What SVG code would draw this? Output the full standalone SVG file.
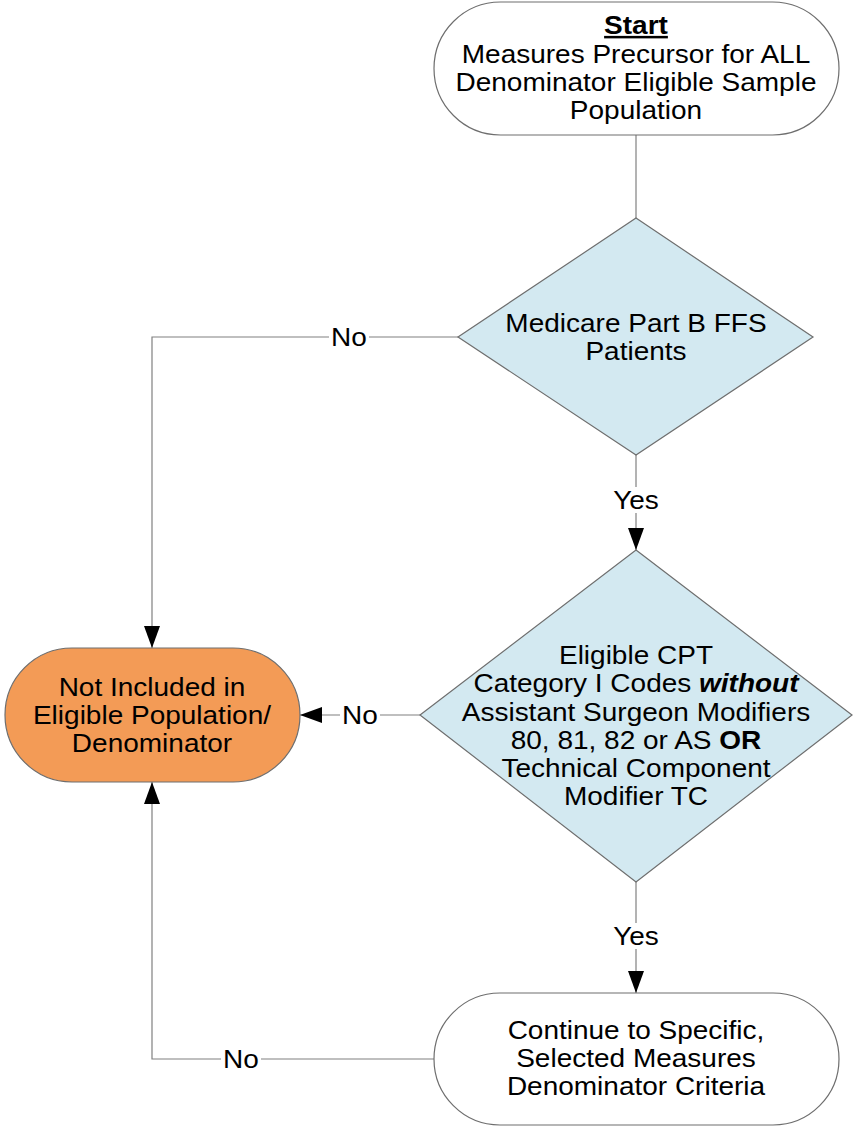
<svg xmlns="http://www.w3.org/2000/svg" width="854" height="1128" viewBox="0 0 854 1128">
<style>
text{font-family:"Liberation Sans",Arial,sans-serif;font-size:25px;fill:#000;text-anchor:middle}
.term{fill:#fff;stroke:#6e6e6e;stroke-width:1.2}
.dec{fill:#d3e9f1;stroke:#6e6e6e;stroke-width:1.2}
.orange{fill:#f39b56;stroke:#6e6e6e;stroke-width:1.2}
.conn{fill:none;stroke:#808080;stroke-width:1.2}
.lbl{fill:#fff}
</style>
<defs>
<marker id="arr" markerWidth="22" markerHeight="16" refX="22" refY="8" orient="auto" markerUnits="userSpaceOnUse" viewBox="0 0 22 16">
<path d="M0,0 L22,8 L0,16 z" fill="#000"/>
</marker>
</defs>
<g id="connectors">
<path class="conn" d="M636,135 L636,218"/>
<path class="conn" d="M458,337 L152,337 L152,648" marker-end="url(#arr)"/>
<path class="conn" d="M636,455 L636,550" marker-end="url(#arr)"/>
<path class="conn" d="M420,715 L300,715" marker-end="url(#arr)"/>
<path class="conn" d="M636,882 L636,993" marker-end="url(#arr)"/>
<path class="conn" d="M434,1059 L152,1059 L152,782" marker-end="url(#arr)"/>
<rect class="lbl" x="329" y="324" width="40" height="26"/>
<text x="349" y="346" transform="translate(349 0) scale(1.12 1) translate(-349 0)">No</text>
<rect class="lbl" x="609" y="487" width="54" height="26"/>
<text x="636" y="509" transform="translate(636 0) scale(1.12 1) translate(-636 0)">Yes</text>
<rect class="lbl" x="340" y="702" width="40" height="26"/>
<text x="360" y="724" transform="translate(360 0) scale(1.12 1) translate(-360 0)">No</text>
<rect class="lbl" x="609" y="923" width="54" height="26"/>
<text x="636" y="945" transform="translate(636 0) scale(1.12 1) translate(-636 0)">Yes</text>
<rect class="lbl" x="221" y="1046" width="40" height="26"/>
<text x="241" y="1068" transform="translate(241 0) scale(1.12 1) translate(-241 0)">No</text>
</g>
<g id="start">
<rect class="term" x="434" y="2" width="405" height="133" rx="66.5" ry="66.5"/>
<g transform="translate(636 0) scale(1.12 1) translate(-636 0)">
<text x="636" y="34" font-weight="bold" text-decoration="underline">Start</text>
<text x="636" y="63">Measures Precursor for ALL</text>
<text x="636" y="91">Denominator Eligible Sample</text>
<text x="636" y="119">Population</text>
</g>
</g>
<g id="medicare">
<polygon class="dec" points="636,218 813,337 636,455 458,337"/>
<g transform="translate(636 0) scale(1.12 1) translate(-636 0)">
<text x="636" y="332">Medicare Part B FFS</text>
<text x="636" y="360">Patients</text>
</g>
</g>
<g id="cpt">
<polygon class="dec" points="636,550 852,715 636,882 420,715"/>
<g transform="translate(636 0) scale(1.12 1) translate(-636 0)">
<text x="636" y="664">Eligible CPT</text>
<text x="636" y="692">Category I Codes <tspan font-weight="bold" font-style="italic">without</tspan></text>
<text x="636" y="721">Assistant Surgeon Modifiers</text>
<text x="636" y="749">80, 81, 82 or AS <tspan font-weight="bold">OR</tspan></text>
<text x="636" y="777">Technical Component</text>
<text x="636" y="805">Modifier TC</text>
</g>
</g>
<g id="notincluded">
<rect class="orange" x="5" y="648" width="295" height="134" rx="67" ry="67"/>
<g transform="translate(152 0) scale(1.12 1) translate(-152 0)">
<text x="152" y="696">Not Included in</text>
<text x="152" y="724">Eligible Population/</text>
<text x="152" y="752">Denominator</text>
</g>
</g>
<g id="continue">
<rect class="term" x="434" y="993" width="405" height="132" rx="66" ry="66"/>
<g transform="translate(636 0) scale(1.12 1) translate(-636 0)">
<text x="636" y="1039">Continue to Specific,</text>
<text x="636" y="1067">Selected Measures</text>
<text x="636" y="1095">Denominator Criteria</text>
</g>
</g>
</svg>
